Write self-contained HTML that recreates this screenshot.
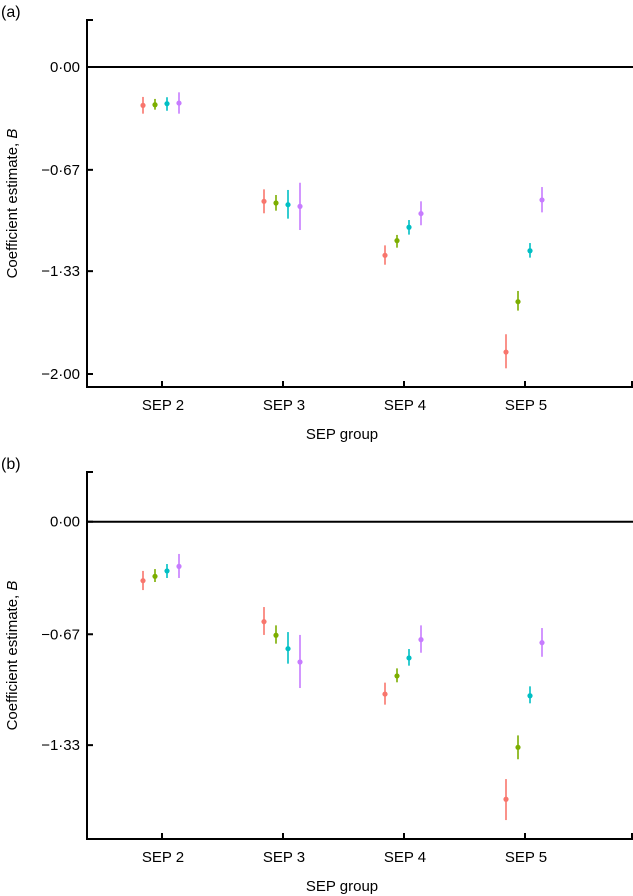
<!DOCTYPE html>
<html><head><meta charset="utf-8"><style>
html,body{margin:0;padding:0;background:#fff;}
svg{display:block;font-family:"Liberation Sans",Arial,sans-serif;}
</style></head><body>
<svg id="chart" width="633" height="896" viewBox="0 0 633 896" xmlns="http://www.w3.org/2000/svg"></svg>
<script>
const categories = ["SEP 2","SEP 3","SEP 4","SEP 5"];
const seriesColors = ["#F8766D","#7CAE00","#00BFC4","#C77CFF"];
// panel (a): estimates, lower and upper CI for each series (per category)
const aEst = [[-0.25,-0.875,-1.227,-1.857],[-0.246,-0.886,-1.131,-1.529],[-0.239,-0.897,-1.044,-1.197],[-0.235,-0.908,-0.955,-0.866]];
const aLo  = [[-0.304,-0.953,-1.288,-1.963],[-0.278,-0.936,-1.177,-1.587],[-0.285,-0.988,-1.092,-1.242],[-0.304,-1.062,-1.031,-0.947]];
const aHi  = [[-0.195,-0.797,-1.162,-1.741],[-0.208,-0.834,-1.094,-1.459],[-0.197,-0.801,-0.997,-1.147],[-0.165,-0.754,-0.875,-0.782]];
// panel (b)
const bEst = [[-0.351,-0.595,-1.026,-1.652],[-0.325,-0.676,-0.918,-1.343],[-0.293,-0.756,-0.811,-1.036],[-0.266,-0.835,-0.702,-0.720]];
const bLo  = [[-0.407,-0.674,-1.089,-1.776],[-0.359,-0.726,-0.956,-1.414],[-0.335,-0.845,-0.857,-1.081],[-0.335,-0.990,-0.780,-0.804]];
const bHi  = [[-0.293,-0.508,-0.958,-1.532],[-0.282,-0.617,-0.873,-1.272],[-0.252,-0.657,-0.758,-0.980],[-0.192,-0.674,-0.617,-0.633]];
const aTicks = [0,-0.67,-1.33,-2.00];
const aTickLabels = ["0·00","−0·67","−1·33","−2·00"];
const bTicks = [0,-0.67,-1.33];
const bTickLabels = ["0·00","−0·67","−1·33"];

const NS="http://www.w3.org/2000/svg";
const svg=document.getElementById('chart');
function mk(tag,attrs,parent){const e=document.createElementNS(NS,tag);for(const k in attrs)e.setAttribute(k,attrs[k]);(parent||svg).appendChild(e);return e;}

function panel(p){
  const g=mk('g',{});
  
  
  const y=v=>p.y0 - v*p.scale;
  const x=i=>162 + i*121;
  const offs=[-19,-7,5,17];
  // axes
  const ax=mk('path',{d:`M93 ${p.top}H87V${p.bottom}H633`,fill:'none',stroke:'#000','stroke-width':2},g);
  
  
  const zl=mk('line',{x1:87,x2:633,y1:y(0),y2:y(0),stroke:'#000','stroke-width':2},g);
  
  
  p.ticks.forEach((t,i)=>{
    mk('line',{x1:87,x2:93,y1:y(t),y2:y(t),stroke:'#000','stroke-width':2},g);
    const tx=mk('text',{x:80,y:y(t)+5,'text-anchor':'end','font-size':15},g);
    tx.textContent=p.tickLabels[i];
    
    
  });
  categories.forEach((c,i)=>{
    mk('line',{x1:x(i),x2:x(i),y1:p.bottom,y2:p.bottom-6,stroke:'#000','stroke-width':2},g);
    const tx=mk('text',{x:x(i)+1,y:p.bottom+23,'text-anchor':'middle','font-size':15},g);
    tx.textContent=c;
    
    
  });
  mk('line',{x1:632,x2:632,y1:p.bottom,y2:p.bottom-6,stroke:'#000','stroke-width':2},g);
  const xt=mk('text',{x:342,y:p.bottom+52,'text-anchor':'middle','font-size':15},g);
  xt.textContent='SEP group';
  
  
  const cy=(p.top+p.bottom)/2;
  const yt=mk('text',{x:0,y:0,transform:`translate(17 ${cy}) rotate(-90)`,'text-anchor':'middle','font-size':15},g);
  yt.innerHTML='Coefficient estimate, <tspan font-style="italic">B</tspan>';
  
  
  const lb=mk('text',{x:1,y:p.top-3,'font-size':16},g);
  lb.textContent='('+p.key+')';
  
  
  for(let s=0;s<4;s++){
    for(let i=0;i<4;i++){
      const px=x(i)+offs[s];
      const er=mk('line',{x1:px,x2:px,y1:y(p.lo[s][i]),y2:y(p.hi[s][i]),stroke:seriesColors[s],'stroke-width':1.6},g);
      
      
      const pt=mk('circle',{cx:px,cy:y(p.est[s][i]),r:2.6,fill:seriesColors[s]},g);
      
      
    }
  }
}
panel({key:'a',top:20,bottom:387,y0:67,scale:153.5,est:aEst,lo:aLo,hi:aHi,ticks:aTicks,tickLabels:aTickLabels});
panel({key:'b',top:472,bottom:839,y0:521.7,scale:168,est:bEst,lo:bLo,hi:bHi,ticks:bTicks,tickLabels:bTickLabels});
</script>
</body></html>
